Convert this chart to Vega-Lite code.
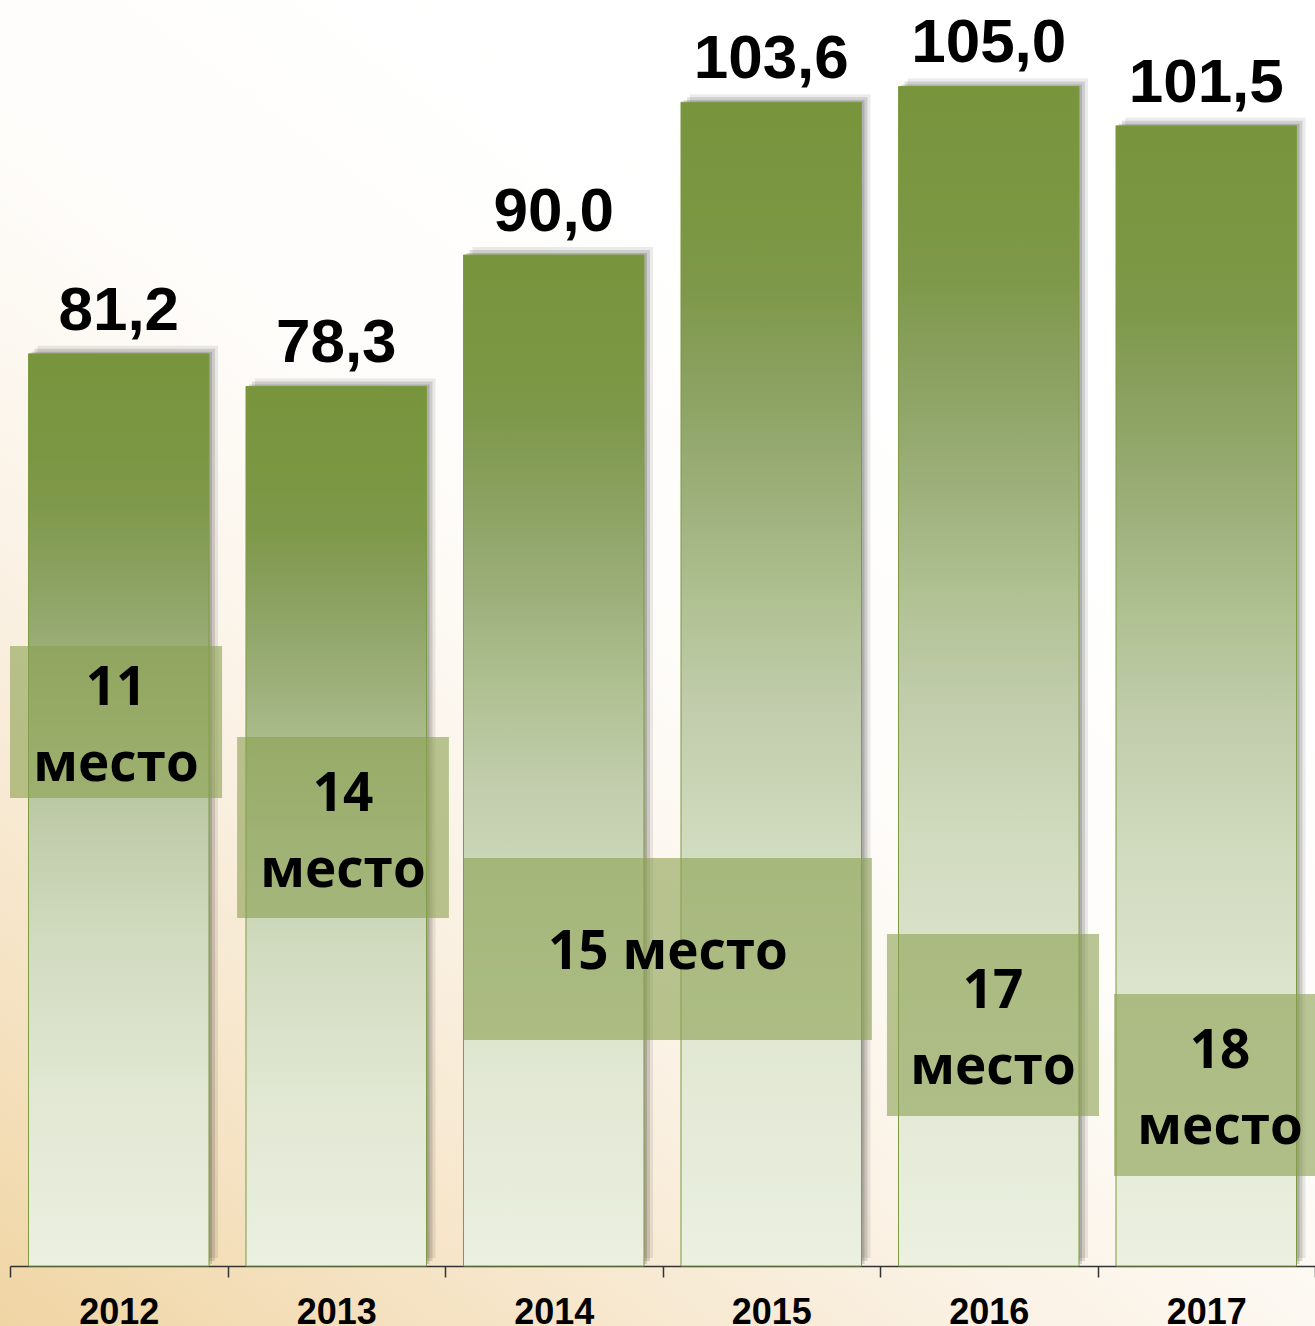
{
  "$schema": "https://vega.github.io/schema/vega-lite/v6.json",
  "width": 1315,
  "height": 1326,
  "padding": 0,
  "autosize": {"type": "none"},
  "background": "#ffffff",
  "config": {
    "view": {
      "stroke": null,
      "fill": {
        "gradient": "linear",
        "x1": 0, "y1": 1, "x2": 0.6, "y2": 0.2,
        "stops": [
          {"offset": 0, "color": "#f0d5a3"},
          {"offset": 0.2, "color": "#f5e2c2"},
          {"offset": 0.45, "color": "#faf1e3"},
          {"offset": 0.7, "color": "#fefcf9"},
          {"offset": 1, "color": "#ffffff"}
        ]
      }
    },
    "locale": {"number": {"decimal": ",", "thousands": " ", "grouping": [3], "currency": ["", ""]}}
  },
  "datasets": {
    "main": [
      {"year": "2012", "value": 81.2},
      {"year": "2013", "value": 78.3},
      {"year": "2014", "value": 90.0},
      {"year": "2015", "value": 103.6},
      {"year": "2016", "value": 105.0},
      {"year": "2017", "value": 101.5}
    ],
    "boxes": [
      {"label": "11\nместо", "x0": 0, "x1": 0.975, "y0": 55.19, "y1": 41.66},
      {"label": "14\nместо", "x0": 1.044, "x1": 2.018, "y0": 47.09, "y1": 30.98},
      {"label": "15 место", "x0": 2.087, "x1": 3.963, "y0": 36.32, "y1": 20.12},
      {"label": "17\nместо", "x0": 4.032, "x1": 5.007, "y0": 29.55, "y1": 13.35},
      {"label": "18\nместо", "x0": 5.076, "x1": 6.051, "y0": 24.21, "y1": 8.01}
    ]
  },
  "layer": [
    {
      "data": {"name": "main"},
      "encoding": {
        "x": {
          "field": "year",
          "type": "nominal",
          "scale": {"range": [10, 1315], "paddingInner": 0, "paddingOuter": 0},
          "axis": {
            "title": null,
            "labelAngle": 0,
            "labelFont": "Liberation Sans",
            "labelFontWeight": "bold",
            "labelFontSize": 36,
            "labelColor": "#000000",
            "labelPadding": 18,
            "tickSize": 11,
            "tickWidth": 1.5,
            "tickColor": "#333333",
            "domainColor": "#333333",
            "domainWidth": 1.5,
            "tickBand": "extent",
            "offset": -60,
            "grid": false
          }
        },
        "y": {
          "field": "value",
          "type": "quantitative",
          "scale": {"domain": [-5.341, 112.7], "nice": false, "zero": false},
          "axis": null
        }
      },
      "layer": [
        {"mark": {"type": "bar", "width": {"band": 0.83}, "color": "#000000", "opacity": 0.08, "xOffset": 9, "yOffset": -8}},
        {"mark": {"type": "bar", "width": {"band": 0.83}, "color": "#000000", "opacity": 0.12, "xOffset": 6, "yOffset": -5}},
        {"mark": {"type": "bar", "width": {"band": 0.83}, "color": "#000000", "opacity": 0.15, "xOffset": 3, "yOffset": -2}},
        {
          "mark": {
            "type": "bar",
            "width": {"band": 0.83},
            "stroke": "#7d9b42",
            "strokeWidth": 1,
            "fill": {
              "gradient": "linear",
              "x1": 0, "y1": 0, "x2": 0, "y2": 1,
              "stops": [
                {"offset": 0, "color": "#78953e"},
                {"offset": 0.08, "color": "#7a9640"},
                {"offset": 0.16, "color": "#7e9849"},
                {"offset": 0.24, "color": "#8aa160"},
                {"offset": 0.34, "color": "#9db07b"},
                {"offset": 0.43, "color": "#b0c192"},
                {"offset": 0.51, "color": "#bfcba9"},
                {"offset": 0.64, "color": "#d1dbbf"},
                {"offset": 0.8, "color": "#e0e7d2"},
                {"offset": 1, "color": "#ebf0e0"}
              ]
            }
          }
        },
        {
          "mark": {
            "type": "text",
            "font": "Liberation Sans",
            "fontWeight": "bold",
            "fontSize": 62,
            "color": "#000000",
            "baseline": "alphabetic",
            "align": "center",
            "dy": -24
          },
          "encoding": {"text": {"field": "value", "type": "quantitative", "format": ".1f"}}
        }
      ]
    },
    {
      "data": {"name": "boxes"},
      "transform": [
        {"calculate": "(datum.x0 + datum.x1) / 2", "as": "xm"},
        {"calculate": "(datum.y0 + datum.y1) / 2", "as": "ym"}
      ],
      "encoding": {
        "x": {"field": "xm", "type": "quantitative", "scale": {"domain": [0, 6], "range": [10, 1315], "nice": false, "zero": false}, "axis": null},
        "y": {"field": "ym", "type": "quantitative", "scale": {"domain": [-5.341, 112.7], "nice": false, "zero": false}, "axis": null},
        "text": {"field": "label", "type": "nominal"}
      },
      "layer": [
        {
          "mark": {"type": "rect", "color": "#8ba050", "opacity": 0.6},
          "encoding": {
            "x": {"field": "x0", "type": "quantitative"},
            "x2": {"field": "x1"},
            "y": {"field": "y0", "type": "quantitative"},
            "y2": {"field": "y1"},
            "text": null
          }
        },
        {
          "transform": [{"filter": "datum.x1 - datum.x0 < 1.5"}],
          "mark": {
            "type": "text",
            "font": "Open Sans",
            "fontWeight": "bold",
            "fontSize": 53,
            "lineHeight": 76,
            "lineBreak": "\n",
            "color": "#000000",
            "baseline": "middle",
            "align": "center",
            "dy": -33
          }
        },
        {
          "transform": [{"filter": "datum.x1 - datum.x0 >= 1.5"}],
          "mark": {
            "type": "text",
            "font": "Open Sans",
            "fontWeight": "bold",
            "fontSize": 53,
            "color": "#000000",
            "baseline": "middle",
            "align": "center",
            "dy": 4
          }
        }
      ]
    }
  ],
  "resolve": {"scale": {"x": "independent"}}
}
